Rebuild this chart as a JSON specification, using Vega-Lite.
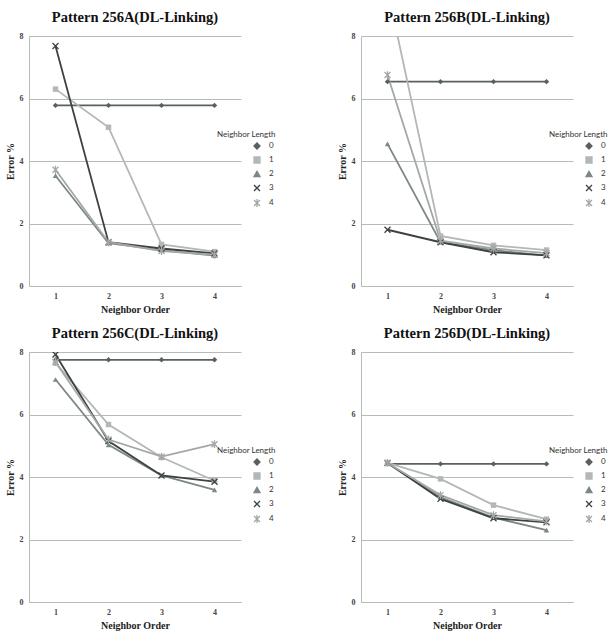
{
  "$schema": "https://vega.github.io/schema/vega-lite/v6.json",
  "background": "white",
  "padding": {"left": 5, "top": 9, "right": 5, "bottom": 5},
  "datasets": {
    "d": [
      {"p":"A","order":1,"len":"0","err":5.78},{"p":"A","order":2,"len":"0","err":5.78},{"p":"A","order":3,"len":"0","err":5.78},{"p":"A","order":4,"len":"0","err":5.78},
      {"p":"A","order":1,"len":"1","err":6.3},{"p":"A","order":2,"len":"1","err":5.08},{"p":"A","order":3,"len":"1","err":1.33},{"p":"A","order":4,"len":"1","err":1.1},
      {"p":"A","order":1,"len":"2","err":3.53},{"p":"A","order":2,"len":"2","err":1.37},{"p":"A","order":3,"len":"2","err":1.15},{"p":"A","order":4,"len":"2","err":0.97},
      {"p":"A","order":1,"len":"3","err":7.68},{"p":"A","order":2,"len":"3","err":1.4},{"p":"A","order":3,"len":"3","err":1.2},{"p":"A","order":4,"len":"3","err":1.04},
      {"p":"A","order":1,"len":"4","err":3.72},{"p":"A","order":2,"len":"4","err":1.4},{"p":"A","order":3,"len":"4","err":1.12},{"p":"A","order":4,"len":"4","err":1.0},
      {"p":"B","order":1,"len":"0","err":6.54},{"p":"B","order":2,"len":"0","err":6.54},{"p":"B","order":3,"len":"0","err":6.54},{"p":"B","order":4,"len":"0","err":6.54},
      {"p":"B","order":1,"len":"1","err":9.5},{"p":"B","order":2,"len":"1","err":1.6},{"p":"B","order":3,"len":"1","err":1.3},{"p":"B","order":4,"len":"1","err":1.15},
      {"p":"B","order":1,"len":"2","err":4.55},{"p":"B","order":2,"len":"2","err":1.4},{"p":"B","order":3,"len":"2","err":1.15},{"p":"B","order":4,"len":"2","err":0.97},
      {"p":"B","order":1,"len":"3","err":1.8},{"p":"B","order":2,"len":"3","err":1.4},{"p":"B","order":3,"len":"3","err":1.08},{"p":"B","order":4,"len":"3","err":0.98},
      {"p":"B","order":1,"len":"4","err":6.75},{"p":"B","order":2,"len":"4","err":1.45},{"p":"B","order":3,"len":"4","err":1.2},{"p":"B","order":4,"len":"4","err":1.05},
      {"p":"C","order":1,"len":"0","err":7.75},{"p":"C","order":2,"len":"0","err":7.75},{"p":"C","order":3,"len":"0","err":7.75},{"p":"C","order":4,"len":"0","err":7.75},
      {"p":"C","order":1,"len":"1","err":7.65},{"p":"C","order":2,"len":"1","err":5.68},{"p":"C","order":3,"len":"1","err":4.63},{"p":"C","order":4,"len":"1","err":3.88},
      {"p":"C","order":1,"len":"2","err":7.12},{"p":"C","order":2,"len":"2","err":5.03},{"p":"C","order":3,"len":"2","err":4.05},{"p":"C","order":4,"len":"2","err":3.59},
      {"p":"C","order":1,"len":"3","err":7.92},{"p":"C","order":2,"len":"3","err":5.15},{"p":"C","order":3,"len":"3","err":4.05},{"p":"C","order":4,"len":"3","err":3.85},
      {"p":"C","order":1,"len":"4","err":7.68},{"p":"C","order":2,"len":"4","err":5.2},{"p":"C","order":3,"len":"4","err":4.65},{"p":"C","order":4,"len":"4","err":5.05},
      {"p":"D","order":1,"len":"0","err":4.42},{"p":"D","order":2,"len":"0","err":4.42},{"p":"D","order":3,"len":"0","err":4.42},{"p":"D","order":4,"len":"0","err":4.42},
      {"p":"D","order":1,"len":"1","err":4.45},{"p":"D","order":2,"len":"1","err":3.94},{"p":"D","order":3,"len":"1","err":3.1},{"p":"D","order":4,"len":"1","err":2.65},
      {"p":"D","order":1,"len":"2","err":4.45},{"p":"D","order":2,"len":"2","err":3.35},{"p":"D","order":3,"len":"2","err":2.7},{"p":"D","order":4,"len":"2","err":2.3},
      {"p":"D","order":1,"len":"3","err":4.45},{"p":"D","order":2,"len":"3","err":3.3},{"p":"D","order":3,"len":"3","err":2.68},{"p":"D","order":4,"len":"3","err":2.55},
      {"p":"D","order":1,"len":"4","err":4.45},{"p":"D","order":2,"len":"4","err":3.42},{"p":"D","order":3,"len":"4","err":2.78},{"p":"D","order":4,"len":"4","err":2.58}
    ]
  },
  "data": {"name": "d"},
  "columns": 2,
  "spacing": {"row": 11, "column": 61},
  "resolve": {"scale": {"color": "independent", "shape": "independent"}, "legend": {"color": "independent", "shape": "independent"}},
  "concat": [
    {
      "title": "Pattern 256A(DL-Linking)",
      "width": 212, "height": 250,
      "transform": [{"filter": "datum.p == 'A'"}],
      "encoding": {
        "x": {"field": "order", "type": "ordinal", "scale": {"type": "point", "padding": 0.5}, "title": "Neighbor Order"},
        "y": {"field": "err", "type": "quantitative", "scale": {"domain": [0, 8], "nice": false}, "axis": {"values": [0, 2, 4, 6, 8]}, "title": "Error %"},
        "color": {"field": "len", "type": "nominal", "scale": {"domain": ["0","1","2","3","4"], "range": ["#59605d","#b3b7b6","#7b8884","#3d4240","#a3a8a7"]},
          "legend": {"orient": "none", "legendX": 188, "legendY": 95, "title": "Neighbor Length", "symbolSize": 36, "symbolOffset": 36, "labelOffset": 8, "rowPadding": 2, "titlePadding": 3}}
      },
      "layer": [
        {"mark": {"type": "line", "strokeWidth": 1.8, "clip": true}},
        {"transform": [{"filter": "datum.len == '0' || datum.len == '1' || datum.len == '2'"}],
         "mark": {"type": "point", "filled": true, "size": 30, "opacity": 1, "clip": true},
         "encoding": {"shape": {"field": "len", "type": "nominal", "scale": {"domain": ["0","1","2","3","4"], "range": ["diamond","square","triangle-up","M-1,-1L1,1M-1,1L1,-1","M-1,-1L1,1M-1,1L1,-1M0,-1.3V1.3"]}, "legend": null}}},
        {"transform": [{"filter": "datum.len == '3' || datum.len == '4'"}],
         "mark": {"type": "point", "filled": false, "size": 36, "strokeWidth": 1.3, "opacity": 1, "clip": true},
         "encoding": {"shape": {"field": "len", "type": "nominal", "scale": {"domain": ["0","1","2","3","4"], "range": ["diamond","square","triangle-up","M-1,-1L1,1M-1,1L1,-1","M-1,-1L1,1M-1,1L1,-1M0,-1.3V1.3"]}, "legend": null}}}
      ]
    },
    {
      "title": "Pattern 256B(DL-Linking)",
      "width": 212, "height": 250,
      "transform": [{"filter": "datum.p == 'B'"}],
      "encoding": {
        "x": {"field": "order", "type": "ordinal", "scale": {"type": "point", "padding": 0.5}, "title": "Neighbor Order"},
        "y": {"field": "err", "type": "quantitative", "scale": {"domain": [0, 8], "nice": false}, "axis": {"values": [0, 2, 4, 6, 8]}, "title": "Error %"},
        "color": {"field": "len", "type": "nominal", "scale": {"domain": ["0","1","2","3","4"], "range": ["#59605d","#b3b7b6","#7b8884","#3d4240","#a3a8a7"]},
          "legend": {"orient": "none", "legendX": 188, "legendY": 95, "title": "Neighbor Length", "symbolSize": 36, "symbolOffset": 36, "labelOffset": 8, "rowPadding": 2, "titlePadding": 3}}
      },
      "layer": [
        {"mark": {"type": "line", "strokeWidth": 1.8, "clip": true}},
        {"transform": [{"filter": "datum.len == '0' || datum.len == '1' || datum.len == '2'"}],
         "mark": {"type": "point", "filled": true, "size": 30, "opacity": 1, "clip": true},
         "encoding": {"shape": {"field": "len", "type": "nominal", "scale": {"domain": ["0","1","2","3","4"], "range": ["diamond","square","triangle-up","M-1,-1L1,1M-1,1L1,-1","M-1,-1L1,1M-1,1L1,-1M0,-1.3V1.3"]}, "legend": null}}},
        {"transform": [{"filter": "datum.len == '3' || datum.len == '4'"}],
         "mark": {"type": "point", "filled": false, "size": 36, "strokeWidth": 1.3, "opacity": 1, "clip": true},
         "encoding": {"shape": {"field": "len", "type": "nominal", "scale": {"domain": ["0","1","2","3","4"], "range": ["diamond","square","triangle-up","M-1,-1L1,1M-1,1L1,-1","M-1,-1L1,1M-1,1L1,-1M0,-1.3V1.3"]}, "legend": null}}}
      ]
    },
    {
      "title": "Pattern 256C(DL-Linking)",
      "width": 212, "height": 250,
      "transform": [{"filter": "datum.p == 'C'"}],
      "encoding": {
        "x": {"field": "order", "type": "ordinal", "scale": {"type": "point", "padding": 0.5}, "title": "Neighbor Order"},
        "y": {"field": "err", "type": "quantitative", "scale": {"domain": [0, 8], "nice": false}, "axis": {"values": [0, 2, 4, 6, 8]}, "title": "Error %"},
        "color": {"field": "len", "type": "nominal", "scale": {"domain": ["0","1","2","3","4"], "range": ["#59605d","#b3b7b6","#7b8884","#3d4240","#a3a8a7"]},
          "legend": {"orient": "none", "legendX": 188, "legendY": 95, "title": "Neighbor Length", "symbolSize": 36, "symbolOffset": 36, "labelOffset": 8, "rowPadding": 2, "titlePadding": 3}}
      },
      "layer": [
        {"mark": {"type": "line", "strokeWidth": 1.8, "clip": true}},
        {"transform": [{"filter": "datum.len == '0' || datum.len == '1' || datum.len == '2'"}],
         "mark": {"type": "point", "filled": true, "size": 30, "opacity": 1, "clip": true},
         "encoding": {"shape": {"field": "len", "type": "nominal", "scale": {"domain": ["0","1","2","3","4"], "range": ["diamond","square","triangle-up","M-1,-1L1,1M-1,1L1,-1","M-1,-1L1,1M-1,1L1,-1M0,-1.3V1.3"]}, "legend": null}}},
        {"transform": [{"filter": "datum.len == '3' || datum.len == '4'"}],
         "mark": {"type": "point", "filled": false, "size": 36, "strokeWidth": 1.3, "opacity": 1, "clip": true},
         "encoding": {"shape": {"field": "len", "type": "nominal", "scale": {"domain": ["0","1","2","3","4"], "range": ["diamond","square","triangle-up","M-1,-1L1,1M-1,1L1,-1","M-1,-1L1,1M-1,1L1,-1M0,-1.3V1.3"]}, "legend": null}}}
      ]
    },
    {
      "title": "Pattern 256D(DL-Linking)",
      "width": 212, "height": 250,
      "transform": [{"filter": "datum.p == 'D'"}],
      "encoding": {
        "x": {"field": "order", "type": "ordinal", "scale": {"type": "point", "padding": 0.5}, "title": "Neighbor Order"},
        "y": {"field": "err", "type": "quantitative", "scale": {"domain": [0, 8], "nice": false}, "axis": {"values": [0, 2, 4, 6, 8]}, "title": "Error %"},
        "color": {"field": "len", "type": "nominal", "scale": {"domain": ["0","1","2","3","4"], "range": ["#59605d","#b3b7b6","#7b8884","#3d4240","#a3a8a7"]},
          "legend": {"orient": "none", "legendX": 188, "legendY": 95, "title": "Neighbor Length", "symbolSize": 36, "symbolOffset": 36, "labelOffset": 8, "rowPadding": 2, "titlePadding": 3}}
      },
      "layer": [
        {"mark": {"type": "line", "strokeWidth": 1.8, "clip": true}},
        {"transform": [{"filter": "datum.len == '0' || datum.len == '1' || datum.len == '2'"}],
         "mark": {"type": "point", "filled": true, "size": 30, "opacity": 1, "clip": true},
         "encoding": {"shape": {"field": "len", "type": "nominal", "scale": {"domain": ["0","1","2","3","4"], "range": ["diamond","square","triangle-up","M-1,-1L1,1M-1,1L1,-1","M-1,-1L1,1M-1,1L1,-1M0,-1.3V1.3"]}, "legend": null}}},
        {"transform": [{"filter": "datum.len == '3' || datum.len == '4'"}],
         "mark": {"type": "point", "filled": false, "size": 36, "strokeWidth": 1.3, "opacity": 1, "clip": true},
         "encoding": {"shape": {"field": "len", "type": "nominal", "scale": {"domain": ["0","1","2","3","4"], "range": ["diamond","square","triangle-up","M-1,-1L1,1M-1,1L1,-1","M-1,-1L1,1M-1,1L1,-1M0,-1.3V1.3"]}, "legend": null}}}
      ]
    }
  ],
  "config": {
    "view": {"stroke": null},
    "title": {"font": "Liberation Serif", "fontSize": 14.5, "fontWeight": "bold", "color": "#111", "offset": 7, "anchor": "middle"},
    "axis": {"labelFont": "Liberation Serif", "labelFontSize": 8, "labelFontWeight": "bold", "labelColor": "#444", "titleFont": "Liberation Serif", "titleFontSize": 10, "titleFontWeight": "bold", "titleColor": "#222", "ticks": false, "domainColor": "#b5bcba", "gridColor": "#b5bcba", "labelPadding": 6},
    "axisX": {"grid": false, "labelAngle": 0, "titlePadding": 4},
    "axisY": {"grid": true, "titlePadding": 4},
    "legend": {"titleFont": "Lato", "titleFontSize": 8, "titleFontWeight": "normal", "titleColor": "#333", "labelFont": "Lato", "labelFontSize": 8, "labelColor": "#333", "symbolStrokeWidth": 1.3}
  }
}
